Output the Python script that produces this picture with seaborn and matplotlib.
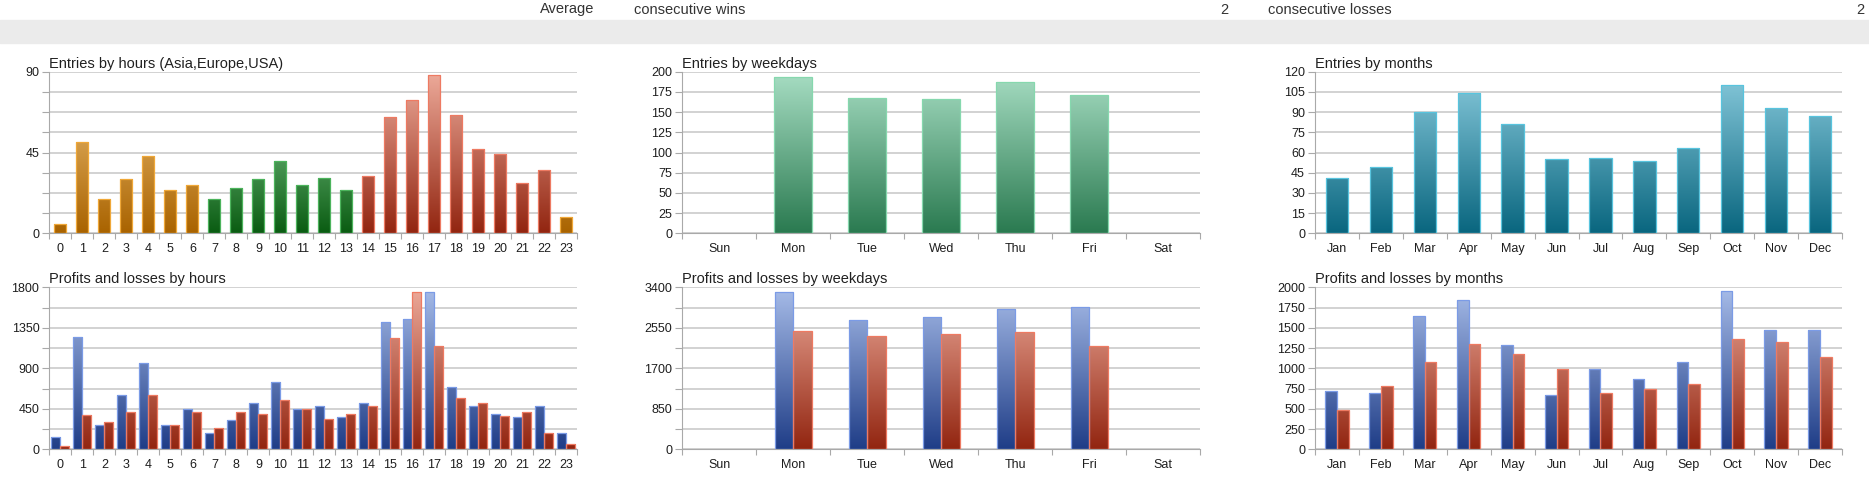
import sys

import matplotlib

matplotlib.use("Agg")
import matplotlib.pyplot as plt  # noqa: E402
import numpy as np  # noqa: E402
import pandas as pd  # noqa: E402
import seaborn as sns  # noqa: E402
from matplotlib.colors import LinearSegmentedColormap, to_hex  # noqa: E402
from matplotlib.patches import Rectangle  # noqa: E402

# ---- data ----
HOURS = ["0", "1", "2", "3", "4", "5", "6", "7", "8", "9", "10", "11",
         "12", "13", "14", "15", "16", "17", "18", "19", "20", "21", "22", "23"]
HOUR_REGION = ["Asia"] * 7 + ["Europe"] * 7 + ["USA"] * 9 + ["Asia"]
HOUR_ENTRIES = [5, 51, 19, 30, 43, 24, 27, 19, 25, 30, 40, 27,
                31, 24, 32, 65, 74, 88, 66, 47, 44, 28, 35, 9]
HOUR_PROFITS = [135, 1250, 270, 600, 960, 270, 450, 180, 330, 510, 750, 450,
                480, 360, 510, 1415, 1445, 1745, 690, 480, 390, 360, 480, 180]
HOUR_LOSSES = [40, 380, 300, 420, 600, 270, 420, 240, 420, 390, 545, 450,
               335, 390, 485, 1235, 1745, 1145, 570, 510, 365, 420, 180, 60]

WEEKDAYS = ["Sun", "Mon", "Tue", "Wed", "Thu", "Fri", "Sat"]
WEEKDAY_ENTRIES = [0, 193, 168, 166, 187, 171, 0]
WEEKDAY_PROFITS = [0, 3310, 2710, 2770, 2940, 2980, 0]
WEEKDAY_LOSSES = [0, 2490, 2380, 2415, 2470, 2160, 0]

MONTHS = ["Jan", "Feb", "Mar", "Apr", "May", "Jun",
          "Jul", "Aug", "Sep", "Oct", "Nov", "Dec"]
MONTH_ENTRIES = [41, 49, 90, 104, 81, 55, 56, 54, 63, 110, 93, 87]
MONTH_PROFITS = [725, 690, 1640, 1840, 1290, 665, 995, 870, 1080, 1955, 1475, 1475]
MONTH_LOSSES = [480, 780, 1080, 1300, 1180, 990, 690, 750, 810, 1365, 1325, 1135]

HEADER = [("Average", 539.7, "left"), ("consecutive wins", 634, "left"),
          ("2", 1228, "right"), ("consecutive losses", 1268, "left"),
          ("2", 1864, "right")]

# group -> (edge, bottom of axis, top of axis) gradient colours
STYLES = {
    "Asia": ("#f0a838", "#a96300", "#f4c880"),
    "Europe": ("#4cb45c", "#0a5c12", "#9ae0a8"),
    "USA": ("#ee7a62", "#922510", "#eeac9c"),
    "Days": ("#86d8ae", "#2a7a50", "#a8dec4"),
    "Months": ("#58c4de", "#09667f", "#8acbdd"),
    "Profit": ("#7b9be6", "#1f3d87", "#a8bde9"),
    "Loss": ("#ee7a62", "#922510", "#eeac9c"),
}

GRID = "#c6c6c6"
AXIS = "#a9a9a9"
TEXT = "#1e1e1e"
W, H = 1869, 500


def fill_gradients(ax, ymax, keys):
    by_edge = {STYLES[k][0]: STYLES[k] for k in keys}
    for bar in list(ax.patches):
        edge = to_hex(bar.get_facecolor())
        if edge not in by_edge:
            continue
        if bar.get_height() <= 0:
            bar.set_visible(False)
            continue
        _, bottom, top = by_edge[edge]
        cmap = LinearSegmentedColormap.from_list("g", [bottom, top])
        x0, w = bar.get_x(), bar.get_width()
        img = ax.imshow(np.linspace(0, 1, 256).reshape(-1, 1), cmap=cmap,
                        origin="lower", extent=[x0, x0 + w, 0, ymax],
                        aspect="auto", zorder=2, interpolation="bilinear")
        img.set_clip_path(bar)
        bar.set_facecolor("none")
        bar.set_edgecolor(edge)
        bar.set_linewidth(0.9)
        bar.set_zorder(3)


def style_axes(ax, title, labels, ymax, step, label_every):
    n = len(labels)
    ticks = np.arange(0, ymax + step / 2, step)
    ax.set_ylim(0, ymax)
    ax.set_xlim(-0.5, n - 0.5)
    ax.set_yticks(ticks)
    ax.set_yticklabels([f"{t:g}" if i % label_every == 0 else ""
                        for i, t in enumerate(ticks)])
    ax.set_xticks(range(n))
    ax.set_xticklabels(labels)
    ax.set_xticks(np.arange(n + 1) - 0.5, minor=True)
    ax.tick_params(axis="x", which="major", length=0, pad=7,
                   labelsize=9, labelcolor=TEXT)
    ax.tick_params(axis="x", which="minor", length=4.5, width=0.8,
                   color=AXIS, bottom=True)
    ax.tick_params(axis="y", length=4.7, width=0.8, color=AXIS, pad=2.5,
                   labelsize=9, labelcolor=TEXT, left=True)
    ax.set_axisbelow(True)
    ax.grid(axis="y", color=GRID, linewidth=1.1)
    ax.grid(axis="x", visible=False)
    for side in ("top", "right"):
        ax.spines[side].set_visible(False)
    for side in ("left", "bottom"):
        ax.spines[side].set_color(AXIS)
        ax.spines[side].set_linewidth(0.8)
    ax.set_xlabel("")
    ax.set_ylabel("")
    ax.set_title(title, loc="left", fontsize=10.5, color="#202020", pad=3)


def entries_plot(ax, labels, values, hue, width):
    df = pd.DataFrame({"cat": labels, "n": values, "group": hue})
    palette = {k: STYLES[k][0] for k in set(hue)}
    sns.barplot(ax=ax, data=df, x="cat", y="n", hue="group", order=labels,
                palette=palette, dodge=False, width=width, saturation=1,
                errorbar=None, legend=False)
    return set(hue)


def pnl_plot(ax, labels, profits, losses, width):
    df = pd.concat((
        pd.DataFrame({"cat": labels, "v": profits, "kind": "Profit"}),
        pd.DataFrame({"cat": labels, "v": losses, "kind": "Loss"}),
    ), ignore_index=True)
    palette = {k: STYLES[k][0] for k in ("Profit", "Loss")}
    sns.barplot(ax=ax, data=df, x="cat", y="v", hue="kind", order=labels,
                hue_order=["Profit", "Loss"], palette=palette, dodge=True,
                width=width, gap=0, saturation=1, errorbar=None, legend=False)
    return {"Profit", "Loss"}


def main() -> int:
    sns.set_theme(style="white")
    plt.rcParams["font.family"] = ["Liberation Sans", "DejaVu Sans"]

    fig = plt.figure(figsize=(W / 100, H / 100), dpi=100)
    fig.patches.append(Rectangle((0, 1 - 43 / H), 1, 23 / H,
                                 transform=fig.transFigure,
                                 color="#ebebeb", zorder=0))
    for text, x, ha in HEADER:
        fig.text(x / W, 1 - 9.5 / H, text, ha=ha, va="center",
                 fontsize=10.5, color="#333333")

    cols = [(49.4, 528), (682.3, 518), (1315, 527)]
    rows = [(71.7, 233.3), (287.3, 449.3)]

    def make_ax(c, r):
        left, width = cols[c]
        top, bottom = rows[r]
        return fig.add_axes([left / W, 1 - bottom / H, width / W, (bottom - top) / H])

    ax = make_ax(0, 0)
    keys = entries_plot(ax, HOURS, HOUR_ENTRIES, HOUR_REGION, 0.55)
    fill_gradients(ax, 90, keys)
    style_axes(ax, "Entries by hours (Asia,Europe,USA)", HOURS, 90, 11.25, 4)

    ax = make_ax(1, 0)
    keys = entries_plot(ax, WEEKDAYS, WEEKDAY_ENTRIES, ["Days"] * len(WEEKDAYS), 0.51)
    fill_gradients(ax, 200, keys)
    style_axes(ax, "Entries by weekdays", WEEKDAYS, 200, 25, 1)

    ax = make_ax(2, 0)
    keys = entries_plot(ax, MONTHS, MONTH_ENTRIES, ["Months"] * len(MONTHS), 0.51)
    fill_gradients(ax, 120, keys)
    style_axes(ax, "Entries by months", MONTHS, 120, 15, 1)

    ax = make_ax(0, 1)
    keys = pnl_plot(ax, HOURS, HOUR_PROFITS, HOUR_LOSSES, 0.82)
    fill_gradients(ax, 1800, keys)
    style_axes(ax, "Profits and losses by hours", HOURS, 1800, 225, 2)

    ax = make_ax(1, 1)
    keys = pnl_plot(ax, WEEKDAYS, WEEKDAY_PROFITS, WEEKDAY_LOSSES, 0.5)
    fill_gradients(ax, 3400, keys)
    style_axes(ax, "Profits and losses by weekdays", WEEKDAYS, 3400, 425, 2)

    ax = make_ax(2, 1)
    keys = pnl_plot(ax, MONTHS, MONTH_PROFITS, MONTH_LOSSES, 0.53)
    fill_gradients(ax, 2000, keys)
    style_axes(ax, "Profits and losses by months", MONTHS, 2000, 250, 1)

    fig.savefig("out.png", dpi=100)
    return 0


if __name__ == "__main__":
    sys.exit(main())
